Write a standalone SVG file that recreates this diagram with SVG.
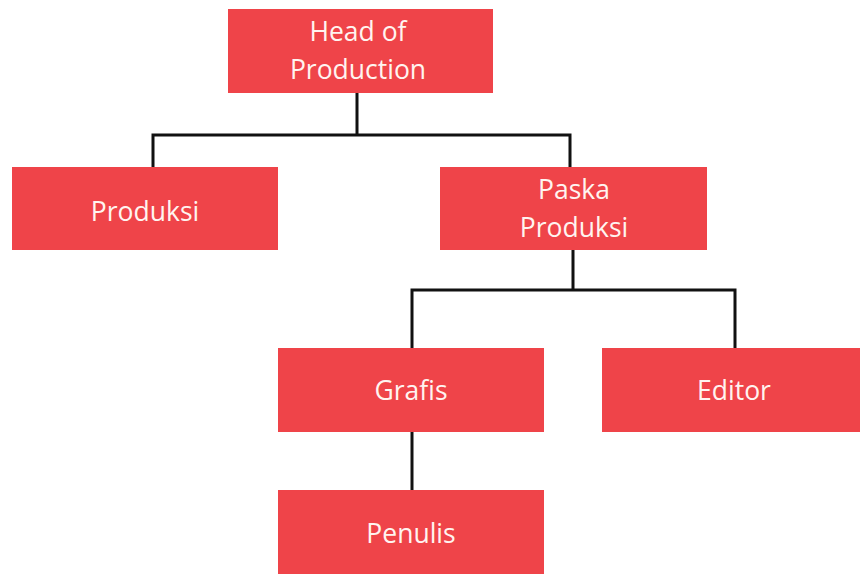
<svg xmlns="http://www.w3.org/2000/svg" width="860" height="574" viewBox="0 0 860 574">
<style>
.box{fill:#EF4449}
.lbl{font-family:"Open Sans","Noto Sans",sans-serif;font-size:26.5px;fill:#FFF4F0;text-anchor:middle}
.conn{stroke:#111;stroke-width:3;fill:none}
</style>
<rect width="860" height="574" fill="#fff"/>
<g id="connectors">
<path class="conn" d="M357,93 V135 M153,167 V135 H570 V167"/>
<path class="conn" d="M573,250 V290 M412,348 V290 H735 V348"/>
<path class="conn" d="M412,432 V490"/>
</g>
<g id="head"><rect class="box" x="228" y="9" width="265" height="84"/>
<text class="lbl" x="358" y="41">Head of</text><text class="lbl" x="358" y="79">Production</text></g>
<g id="produksi"><rect class="box" x="12" y="167" width="266" height="83"/>
<text class="lbl" x="145" y="221">Produksi</text></g>
<g id="paska"><rect class="box" x="440" y="167" width="267" height="83"/>
<text class="lbl" x="574" y="199">Paska</text><text class="lbl" x="574" y="237">Produksi</text></g>
<g id="grafis"><rect class="box" x="278" y="348" width="266" height="84"/>
<text class="lbl" x="411" y="400">Grafis</text></g>
<g id="editor"><rect class="box" x="602" y="348" width="258" height="84"/>
<text class="lbl" x="734" y="400">Editor</text></g>
<g id="penulis"><rect class="box" x="278" y="490" width="266" height="84"/>
<text class="lbl" x="411" y="543">Penulis</text></g>
</svg>
